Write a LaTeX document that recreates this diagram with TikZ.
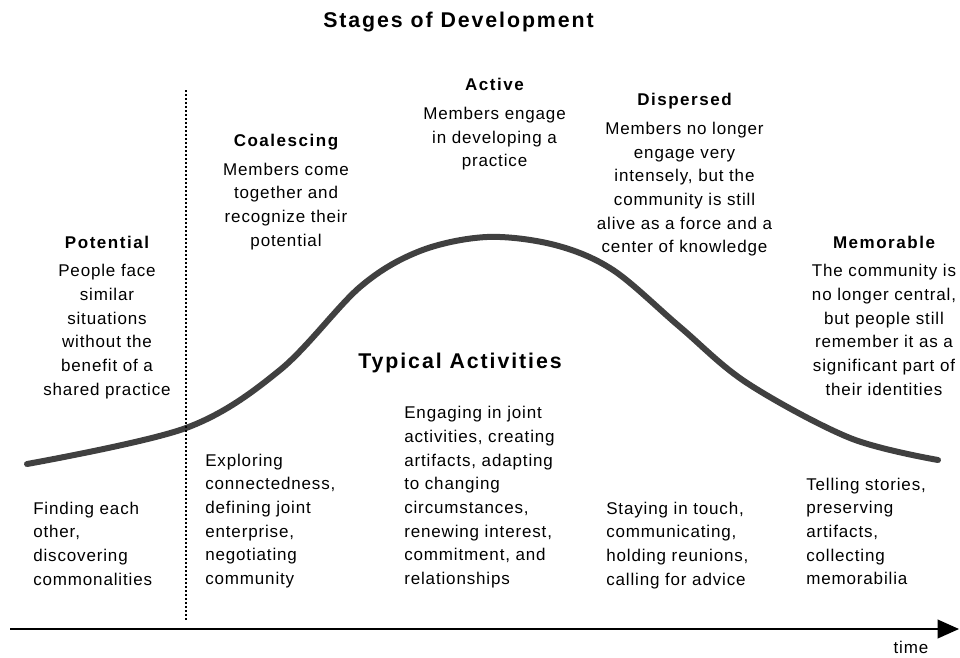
\documentclass[tikz,border=0pt]{standalone}
\usepackage{fontspec}
\setmainfont{Liberation Sans}[LetterSpace=5]
\newfontfamily\headfont{Liberation Sans}[LetterSpace=9]
\usetikzlibrary{arrows.meta}

\begin{document}
\begin{tikzpicture}[x=0.75pt, y=-0.75pt,
        every node/.style={inner sep=0pt, font=\fontsize{12.75}{17.75}\selectfont},
        stage/.style={align=center, anchor=north},
        activity/.style={align=left, anchor=north west},
        heading/.style={anchor=base, font=\headfont\bfseries\fontsize{16}{19}\selectfont}]

    \useasboundingbox (0,0) rectangle (960,657);

    \node[heading] (title) at (458.5,27) {Stages of Development};
    \node[heading] (typical) at (460,368) {Typical Activities};

    \draw[line width=4.5pt, black!75, line cap=round] plot[smooth, tension=0.55] coordinates {
        (27,464) (186,428) (280,370) (360,287) (420,251) (487,237) (555,245)
        (613,270) (680,327) (747,383) (850,438) (938,460)};

    \coordinate (split top) at (186,90);
    \coordinate (split bottom) at (186,621);
    \draw[line width=1.5pt, dash pattern=on 1.5pt off 1.5pt] (split top) -- (split bottom);

    \node[stage] (potential) at (107,231.4) {\strut{\headfont\bfseries Potential}\\[3.6pt]
        People face\\ similar\\ situations\\ without the\\ benefit of a\\ shared practice};
    \node[stage] (coalescing) at (286,130) {\strut{\headfont\bfseries Coalescing}\\[3.6pt]
        Members come\\ together and\\ recognize their\\ potential};
    \node[stage] (active) at (494.5,74.1) {\strut{\headfont\bfseries Active}\\[3.6pt]
        Members engage\\ in developing a\\ practice};
    \node[stage] (dispersed) at (684.5,89.1) {\strut{\headfont\bfseries Dispersed}\\[3.6pt]
        Members no longer\\ engage very\\ intensely, but the\\ community is still\\
        alive as a force and a\\ center of knowledge};
    \node[stage] (memorable) at (884,231.4) {\strut{\headfont\bfseries Memorable}\\[3.6pt]
        The community is\\ no longer central,\\ but people still\\ remember it as a\\
        significant part of\\ their identities};

    \node[activity] (finding) at (33,497.4) {\strut Finding each\\ other,\\ discovering\\ commonalities};
    \node[activity] (exploring) at (205,449.4) {\strut Exploring\\ connectedness,\\ defining joint\\
        enterprise,\\ negotiating\\ community};
    \node[activity] (engaging) at (404,402) {\strut Engaging in joint\\ activities, creating\\
        artifacts, adapting\\ to changing\\ circumstances,\\ renewing interest,\\
        commitment, and\\ relationships};
    \node[activity] (staying) at (606,497.4) {\strut Staying in touch,\\ communicating,\\
        holding reunions,\\ calling for advice};
    \node[activity] (telling) at (806,473.4) {\strut Telling stories,\\ preserving\\ artifacts,\\
        collecting\\ memorabilia};

    \coordinate (time start) at (10,629);
    \coordinate (time end) at (959,629);
    \draw[line width=1.2pt, -{Triangle[length=16pt, width=14pt]}] (time start) -- (time end);
    \node[anchor=base] (time) at (911,653) {time};
\end{tikzpicture}
\end{document}
